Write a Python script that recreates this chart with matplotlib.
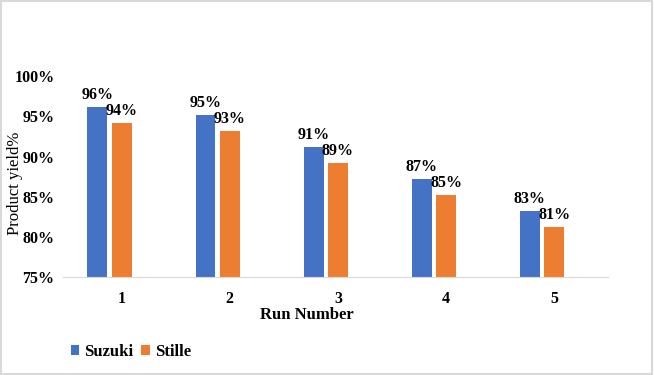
import matplotlib.pyplot as plt
from matplotlib.patches import Rectangle
from matplotlib.ticker import PercentFormatter

runs = ["1", "2", "3", "4", "5"]
suzuki = [96.2, 95.2, 91.2, 87.2, 83.2]
stille = [94.2, 93.2, 89.2, 85.2, 81.2]
suzuki_labels = ["96%", "95%", "91%", "87%", "83%"]
stille_labels = ["94%", "93%", "89%", "85%", "81%"]

plt.rcParams['font.family'] = ['Liberation Serif', 'DejaVu Serif']

fig = plt.figure(figsize=(6.54, 3.75), dpi=100)
ax = fig.add_axes([0.096, 0.261, 0.834, 0.536])

x = list(range(1, len(runs) + 1))
w = 0.183
step = 0.225
xs = [i - step for i in x]

b1 = ax.bar(xs, suzuki, width=w, color='#4472C4', label='Suzuki')
b2 = ax.bar(x, stille, width=w, color='#ED7D31', label='Stille')

for bar, txt in zip(b1, suzuki_labels):
    ax.annotate(txt, (bar.get_x() + bar.get_width() / 2, bar.get_height()),
                xytext=(0, 3), textcoords='offset points', ha='center', va='bottom',
                fontsize=11.5, fontweight='bold')
for bar, txt in zip(b2, stille_labels):
    ax.annotate(txt, (bar.get_x() + bar.get_width() / 2, bar.get_height()),
                xytext=(0, 3), textcoords='offset points', ha='center', va='bottom',
                fontsize=11.5, fontweight='bold')

ax.set_ylim(75, 100)
ax.set_yticks([75, 80, 85, 90, 95, 100])
ax.yaxis.set_major_formatter(PercentFormatter(decimals=0))
ax.set_xlim(0.455, 5.5)
ax.set_xticks(x)
ax.set_xticklabels(runs)
ax.tick_params(length=0, labelsize=11.5)
for lab in ax.get_xticklabels() + ax.get_yticklabels():
    lab.set_fontweight('bold')
ax.tick_params(axis='x', pad=10)
ax.tick_params(axis='y', pad=6)

for s in ['top', 'right', 'left']:
    ax.spines[s].set_visible(False)
ax.spines['bottom'].set_color('#d9d9d9')

ax.set_xlabel('Run Number', fontsize=12, fontweight='bold', labelpad=0)
ax.xaxis.set_label_coords(0.448, -0.15)
ax.set_ylabel('Product yield%', fontsize=12)
ax.yaxis.set_label_coords(-0.073, 0.468)

fig.legend(loc='lower left', bbox_to_anchor=(0.085, 0.0), ncol=2, frameon=False,
           prop={'weight': 'bold', 'size': 12}, handlelength=0.5, handleheight=0.5,
           handletextpad=0.3, columnspacing=0.5)

fig.patches.append(Rectangle((0.002, 0.003), 0.995, 0.994, transform=fig.transFigure,
                             fill=False, edgecolor='#d9d9d9', linewidth=1.5))

plt.savefig('out.png')
